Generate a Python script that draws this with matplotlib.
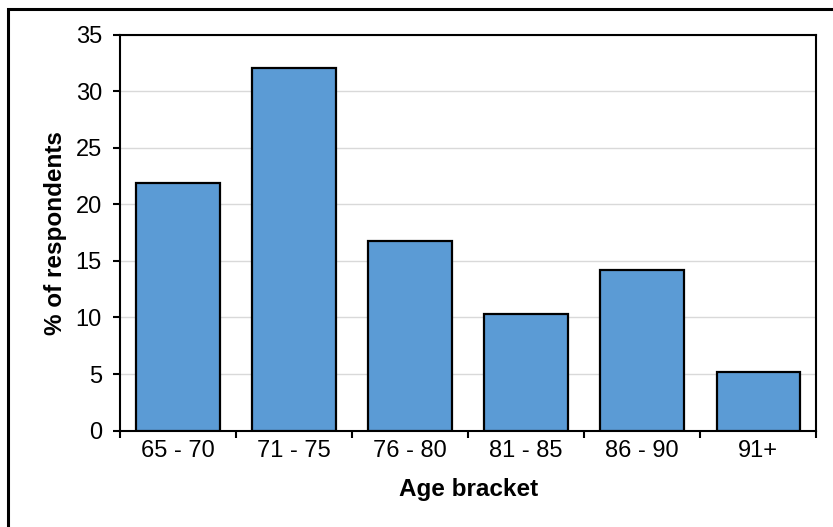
import numpy as np
import matplotlib.pyplot as plt
from matplotlib.patches import Rectangle

plt.rcParams['font.family'] = ['Liberation Sans', 'DejaVu Sans']

# data
categories = ['65 - 70', '71 - 75', '76 - 80', '81 - 85', '86 - 90', '91+']
values = [21.9, 32.1, 16.8, 10.3, 14.2, 5.2]

fig = plt.figure(figsize=(8.33, 5.27), dpi=100)
ax = fig.add_axes([0.144, 0.183, 0.836, 0.751])

x = np.arange(len(categories))
ax.bar(x, values, width=0.72, color='#5b9bd5', edgecolor='black', linewidth=1.6, zorder=3)

ax.set_xlim(-0.5, len(categories) - 0.5)
ax.set_ylim(0, 35)
ax.set_yticks(np.arange(0, 36, 5))
ax.yaxis.grid(True, color='#d9d9d9', linewidth=1, zorder=0)

ax.set_xticks(x)
ax.set_xticklabels(categories)
ax.tick_params(axis='x', which='major', length=0, pad=7, labelsize=17)
ax.set_xticks(np.arange(-0.5, len(categories)), minor=True)
ax.tick_params(axis='x', which='minor', length=5, width=1.5, direction='out')
ax.tick_params(axis='y', length=5, width=1.5, direction='out', labelsize=17, pad=8)

for s in ax.spines.values():
    s.set_linewidth(1.5)
    s.set_color('black')

ax.set_ylabel('% of respondents', fontsize=17.5, fontweight='bold', labelpad=6)
ax.set_xlabel('Age bracket', fontsize=17.5, fontweight='bold', labelpad=11)

# outer frame
fig.patches.append(Rectangle((8/833, -0.1), 1.2, 1 - 9/527 + 0.1, transform=fig.transFigure,
                             fill=False, edgecolor='black', linewidth=2.2))

fig.savefig('out.png', dpi=100)
